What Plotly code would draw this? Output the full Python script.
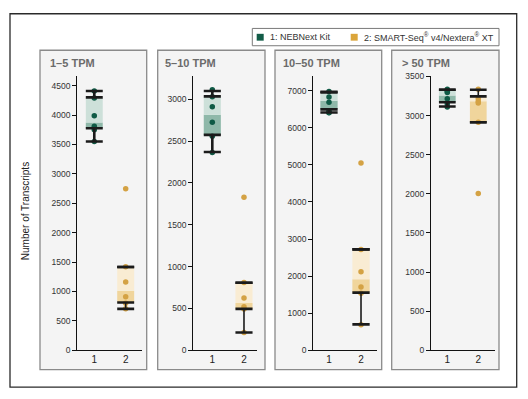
import plotly.graph_objects as go

W, H = 528, 399

panel_titles = ["1–5 TPM", "5–10 TPM", "10–50 TPM", "> 50 TPM"]
group_labels = ["1", "2"]
series_names = ["1: NEBNext Kit", "2: SMART-Seq<sup>®</sup> v4/Nextera<sup>®</sup> XT"]
y_title = "Number of Transcripts"

# individual replicate values (number of transcripts) per panel
neb_points = [
    [4410, 4290, 3990, 3810, 3750, 3550],
    [3115, 3030, 2910, 2725, 2560, 2365],
    [6975, 6830, 6685, 6455, 6410, 6405],
    [3335, 3310, 3295, 3215, 3150, 3110],
]
smart_points = [
    [2745, 1420, 1160, 910, 800, 705],
    [1830, 810, 625, 520, 495, 213],
    [5050, 2720, 2115, 1710, 1540, 690],
    [3335, 3215, 3180, 3160, 2915, 2005],
]

# box statistics: lower whisker, Q1, median, Q3, upper whisker
neb_min = [3550, 2370, 6410, 3115]
neb_q1 = [3775, 2575, 6495, 3170]
neb_med = [3875, 2815, 6730, 3255]
neb_q3 = [4300, 3035, 6950, 3330]
neb_max = [4410, 3100, 6972, 3330]

smart_min = [705, 213, 700, 2915]
smart_q1 = [812, 495, 1555, 2915]
smart_med = [1012, 565, 1913, 3183]
smart_q3 = [1417, 808, 2722, 3245]
smart_max = [1417, 808, 2722, 3330]

# ---------------- styling / layout (not data) ----------------
FONT = "Liberation Sans, Arial, Helvetica, sans-serif"
pt_colors = ["#0f5a45", "#d4a244"]
light_colors = ["#cde0d9", "#f9ecd3"]
dark_colors = ["#8fb8a9", "#f0d59c"]
whisker_w = [2.6, 1.6]
BOX_W = 0.54

# pixel geometry of each panel
x_dom_px = [(77.3, 141.7), (193.3, 257.3), (313.3, 376.7), (431.0, 495.0)]
x_ranges = [(0.459, 2.51), (0.40, 2.42), (0.51, 2.49), (0.474, 2.54)]
y_tops = [4670, 3283, 7404, 3510]
y_dticks = [500, 500, 1000, 500]
y_dom_px = (354.3, 73.3)
panel_px = [(40, 146.7), (157.7, 265), (275, 381.7), (391.7, 499)]
panel_y_px = (47.3, 374)
title_x_px = [48, 163.3, 281, 400]


def px(x):
    return x / W


def py(y):
    return 1 - y / H


fig = go.Figure()

stats = [
    (neb_points, neb_min, neb_q1, neb_med, neb_q3, neb_max),
    (smart_points, smart_min, smart_q1, smart_med, smart_q3, smart_max),
]

for p in range(4):
    xa = "x" if p == 0 else f"x{p + 1}"
    ya = "y" if p == 0 else f"y{p + 1}"
    for g in range(2):
        pts, mn, q1, md, q3, mx = stats[g]
        xg = g + 1
        # box lower part (Q1 -> median)
        fig.add_trace(go.Bar(x=[xg], y=[md[p] - q1[p]], base=[q1[p]], width=BOX_W,
                             marker=dict(color=dark_colors[g], line=dict(width=0)),
                             xaxis=xa, yaxis=ya, showlegend=False, hoverinfo="skip"))
        # box upper part (median -> Q3)
        fig.add_trace(go.Bar(x=[xg], y=[q3[p] - md[p]], base=[md[p]], width=BOX_W,
                             marker=dict(color=light_colors[g], line=dict(width=0)),
                             xaxis=xa, yaxis=ya, showlegend=False, hoverinfo="skip"))
        # points
        fig.add_trace(go.Scatter(x=[xg] * len(pts[p]), y=pts[p], mode="markers",
                                 marker=dict(color=pt_colors[g], size=5.5),
                                 xaxis=xa, yaxis=ya, showlegend=False))
        # whiskers
        fig.add_trace(go.Scatter(x=[xg, xg, None, xg, xg],
                                 y=[q3[p], mx[p], None, mn[p], q1[p]], mode="lines",
                                 line=dict(color="#1b1b1b", width=whisker_w[g]),
                                 xaxis=xa, yaxis=ya, showlegend=False, hoverinfo="skip"))
        # caps and quartile bars
        cx, cy = [], []
        for v in (mn[p], q1[p], q3[p], mx[p]):
            cx += [xg - BOX_W / 2, xg + BOX_W / 2, None]
            cy += [v, v, None]
        fig.add_trace(go.Scatter(x=cx, y=cy, mode="lines",
                                 line=dict(color="#1b1b1b", width=2.6),
                                 xaxis=xa, yaxis=ya, showlegend=False, hoverinfo="skip"))

layout = dict(
    width=W, height=H, margin=dict(l=0, r=0, t=0, b=0),
    paper_bgcolor="white", plot_bgcolor="rgba(0,0,0,0)",
    barmode="overlay", showlegend=False,
    font=dict(family=FONT, color="#222"),
)

for p in range(4):
    xk = "xaxis" if p == 0 else f"xaxis{p + 1}"
    yk = "yaxis" if p == 0 else f"yaxis{p + 1}"
    xa = "x" if p == 0 else f"x{p + 1}"
    ya = "y" if p == 0 else f"y{p + 1}"
    layout[xk] = dict(domain=[px(x_dom_px[p][0]), px(x_dom_px[p][1])], range=list(x_ranges[p]),
                      anchor=ya, tickvals=[1, 2], ticktext=group_labels, ticks="",
                      showline=True, linecolor="#111", linewidth=1.2, showgrid=False,
                      zeroline=False, tickfont=dict(size=10, color="#222", family=FONT),
                      fixedrange=True)
    layout[yk] = dict(domain=[py(y_dom_px[0]), py(y_dom_px[1])], range=[0, y_tops[p]],
                      anchor=xa, dtick=y_dticks[p], tick0=0, ticks="outside", ticklen=4,
                      tickwidth=1, tickcolor="#111", showline=True, linecolor="#111",
                      linewidth=1.2, showgrid=False, zeroline=False,
                      tickfont=dict(size=8.5, color="#333", family=FONT), fixedrange=True)

shapes = []
# outer frame
shapes.append(dict(type="rect", xref="paper", yref="paper", x0=px(10), x1=px(516.7),
                   y0=py(392), y1=py(10), line=dict(color="#2a2a2a", width=1.3),
                   fillcolor="white", layer="below"))
# panels
for p in range(4):
    shapes.append(dict(type="rect", xref="paper", yref="paper",
                       x0=px(panel_px[p][0]), x1=px(panel_px[p][1]),
                       y0=py(panel_y_px[1]), y1=py(panel_y_px[0]),
                       line=dict(color="#8a8a8a", width=1.3), fillcolor="#f4f4f4",
                       layer="below"))
# legend box
shapes.append(dict(type="rect", xref="paper", yref="paper", x0=px(252.3), x1=px(499),
                   y0=py(42.7), y1=py(25), line=dict(color="#7a7a7a", width=1),
                   fillcolor="white", layer="below"))
leg_sq_x = [256.7, 350.7]
leg_txt_x = [268, 361.7]
leg_colors = ["#125c48", "#dba53a"]
for i in range(2):
    shapes.append(dict(type="rect", xref="paper", yref="paper",
                       x0=px(leg_sq_x[i]), x1=px(leg_sq_x[i] + 7),
                       y0=py(37.5), y1=py(30.5), line=dict(width=0),
                       fillcolor=leg_colors[i], layer="above"))
layout["shapes"] = shapes

ann = []
for p in range(4):
    ann.append(dict(text=f"<b>{panel_titles[p]}</b>", xref="paper", yref="paper",
                    x=px(title_x_px[p]), y=py(60.7), xanchor="left", yanchor="middle",
                    showarrow=False, font=dict(size=11, color="#6b6b6b", family=FONT)))
for i in range(2):
    ann.append(dict(text=series_names[i], xref="paper", yref="paper",
                    x=px(leg_txt_x[i]), y=py(34), xanchor="left", yanchor="middle",
                    showarrow=False, font=dict(size=9, color="#333", family=FONT)))
ann.append(dict(text=y_title, xref="paper", yref="paper", x=px(25), y=py(212),
                xanchor="center", yanchor="middle", textangle=-90, showarrow=False,
                font=dict(size=10, color="#222", family=FONT)))
layout["annotations"] = ann

fig.update_layout(**layout)
fig.write_html("out.html", config={"displayModeBar": False},
               post_script="document.body.style.margin='0';document.body.style.overflow='hidden';")
